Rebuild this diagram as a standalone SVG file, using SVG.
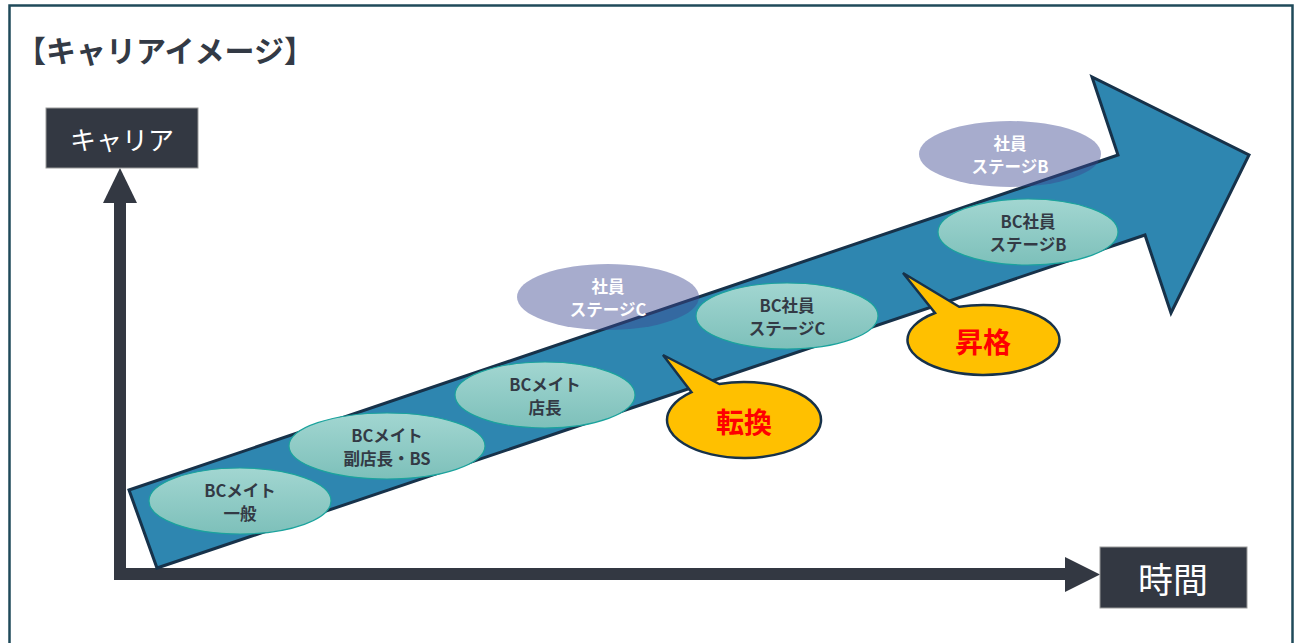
<svg xmlns="http://www.w3.org/2000/svg" width="1296" height="643" viewBox="0 0 1296 643">
<style>
.t{font-family:"Noto Sans CJK JP","Noto Sans",sans-serif;font-weight:bold;text-anchor:middle;dominant-baseline:central}
.dk{fill:#333a45;font-size:16.5px}
.wt{fill:#ffffff;font-size:16.5px}
.stage{fill:url(#tg);stroke:#1ba39d;stroke-width:1.2}
.emp{fill:#3c4690;fill-opacity:0.45}
.call{fill:#ffc000;stroke:#17324a;stroke-width:2.5;stroke-linejoin:miter}
.ct{fill:#ff0000;font-size:28px}
.lbl{fill:#333842;stroke:#9a9a9a;stroke-width:1}
.lt{font-family:"Noto Sans CJK JP","Noto Sans",sans-serif;fill:#ffffff;text-anchor:middle;dominant-baseline:central}
.ax{fill:#333842}
</style>
<defs>
<linearGradient id="tg" x1="0" y1="0" x2="0" y2="1">
<stop offset="0" stop-color="#a2d6d1"/>
<stop offset="1" stop-color="#7dc0ba"/>
</linearGradient>
</defs>
<rect x="0" y="0" width="1296" height="643" fill="#ffffff"/>
<rect x="9.5" y="5.5" width="1283" height="650" fill="none" stroke="#1f4a5a" stroke-width="2.5"/>
<text x="16" y="49" font-family="'Noto Sans CJK JP','Noto Sans',sans-serif" font-weight="bold" font-size="30" fill="#333a45" dominant-baseline="central">【キャリアイメージ】</text>

<g id="connectors">
<rect class="ax" x="114" y="200" width="12" height="380"/>
<polygon class="ax" points="120,168 137,203 103,203"/>
<rect class="ax" x="114" y="568" width="954" height="12"/>
<polygon class="ax" points="1100,574.5 1065,557 1065,592"/>
</g>

<g id="career-arrow">
<polygon points="129,490 1118,155 1092,77 1249,155 1171,313 1145,235 157,568" fill="#2e86b0" stroke="#17324a" stroke-width="3" stroke-linejoin="miter"/>
</g>

<g id="label-career">
<rect class="lbl" x="46" y="108" width="152" height="60"/>
<text class="lt" x="122" y="138" font-size="26">キャリア</text>
</g>
<g id="label-time">
<rect class="lbl" x="1100" y="547" width="147" height="61"/>
<text class="lt" x="1173" y="577" font-size="35">時間</text>
</g>

<g id="stage-mate-general">
<ellipse class="stage" cx="240" cy="501" rx="91" ry="33"/>
<text class="t dk" x="240" y="490">BCメイト</text>
<text class="t dk" x="240" y="513">一般</text>
</g>
<g id="stage-mate-vice">
<ellipse class="stage" cx="387" cy="446" rx="98" ry="33"/>
<text class="t dk" x="387" y="435">BCメイト</text>
<text class="t dk" x="387" y="458">副店長・BS</text>
</g>
<g id="stage-mate-manager">
<ellipse class="stage" cx="545" cy="395" rx="90" ry="33"/>
<text class="t dk" x="545" y="384">BCメイト</text>
<text class="t dk" x="545" y="407">店長</text>
</g>
<g id="stage-bc-c">
<ellipse class="stage" cx="787" cy="316" rx="91" ry="33"/>
<text class="t dk" x="787" y="305">BC社員</text>
<text class="t dk" x="787" y="328">ステージC</text>
</g>
<g id="stage-bc-b">
<ellipse class="stage" cx="1028" cy="232" rx="90" ry="33"/>
<text class="t dk" x="1028" y="221">BC社員</text>
<text class="t dk" x="1028" y="244">ステージB</text>
</g>
<g id="stage-emp-c">
<ellipse class="emp" cx="608" cy="297" rx="91" ry="33"/>
<text class="t wt" x="608" y="286">社員</text>
<text class="t wt" x="608" y="309">ステージC</text>
</g>
<g id="stage-emp-b">
<ellipse class="emp" cx="1010" cy="154" rx="91" ry="33"/>
<text class="t wt" x="1010" y="143">社員</text>
<text class="t wt" x="1010" y="166">ステージB</text>
</g>

<g id="callout-conversion">
<path class="call" d="M719.3,384 L663,355 L691.5,392.2 A77 38 0 1 0 719.3,384 Z"/>
<text class="t ct" x="744" y="421">転換</text>
</g>
<g id="callout-promotion">
<path class="call" d="M959.1,306.8 L903,273 L935,313 A76 35 0 1 0 959.1,306.8 Z"/>
<text class="t ct" x="983" y="341">昇格</text>
</g>
</svg>
